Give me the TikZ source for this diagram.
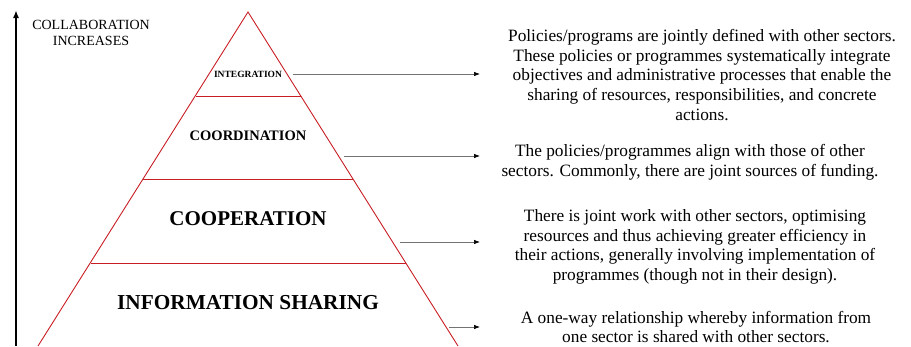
\documentclass[tikz,border=0pt]{standalone}
\usepackage{fontspec}
\setmainfont{Liberation Serif}
\usetikzlibrary{arrows.meta}
\definecolor{pyrred}{RGB}{200,30,35}
\tikzset{
  pyr/.style={draw=pyrred, line width=0.9pt},
  lvl/.style={font=\bfseries, inner sep=0pt, anchor=center},
  desc/.style={align=center, font=\fontsize{17.3}{19.6}\selectfont, inner sep=0pt, anchor=center},
  conn/.style={draw=black!55, line width=0.7pt, -{Latex[length=6pt,width=4.5pt,color=black]}},
  upar/.style={line width=1.8pt, -{Latex[length=8pt,width=6pt]}}
}
\begin{document}
\begin{tikzpicture}[x=1pt,y=-1pt]
\useasboundingbox (0,0) rectangle (911,346);
% pyramid
\coordinate (apex) at (248,12);
\coordinate (bl) at (38,346);
\coordinate (br) at (458,346);
\draw[pyr] (bl) -- (apex) -- (br);
\coordinate (l1) at (196,96);  \coordinate (r1) at (301,96);
\coordinate (l2) at (143,179); \coordinate (r2) at (353,179);
\coordinate (l3) at (91,263);  \coordinate (r3) at (406,263);
\draw[pyr] (l1) -- (r1);
\draw[pyr] (l2) -- (r2);
\draw[pyr] (l3) -- (r3);
% levels
\node[lvl, font=\bfseries\fontsize{9.5}{10}\selectfont] (integ) at (248,74) {INTEGRATION};
\node[lvl, font=\bfseries\fontsize{14.5}{15}\selectfont] (coord) at (248,136) {COORDINATION};
\node[lvl, font=\bfseries\fontsize{21}{22}\selectfont] (coop) at (248,219) {COOPERATION};
\node[lvl, font=\bfseries\fontsize{21.3}{22}\selectfont] (info) at (248,303) {INFORMATION SHARING};
% left axis
\coordinate (axb) at (16,346);
\coordinate (axt) at (16,10);
\draw[upar] (axb) -- (axt);
\node[align=center, font=\fontsize{14}{16}\selectfont, inner sep=0pt] (collab) at (91,33) {COLLABORATION\\INCREASES};
% descriptions
\node[desc] (d1) at (702,75) {Policies/programs are jointly defined with other sectors.\\These policies or programmes systematically integrate\\objectives and administrative processes that enable the\\sharing of resources, responsibilities, and concrete\\actions.};
\node[desc] (d2) at (690,162) {The policies/programmes align with those of other\\sectors. Commonly, there are joint sources of funding.};
\node[desc] (d3) at (695,247) {There is joint work with other sectors, optimising\\resources and thus achieving greater efficiency in\\their actions, generally involving implementation of\\programmes (though not in their design).};
\node[desc] (d4) at (696,327) {A one-way relationship whereby information from\\one sector is shared with other sectors.};
% connectors
\coordinate (s1) at (293,74);  \coordinate (e1) at (480,74);
\coordinate (s2) at (344,156); \coordinate (e2) at (480,156);
\coordinate (s3) at (400,242); \coordinate (e3) at (480,242);
\coordinate (s4) at (449,327); \coordinate (e4) at (480,327);
\draw[conn] (s1) -- (e1);
\draw[conn] (s2) -- (e2);
\draw[conn] (s3) -- (e3);
\draw[conn] (s4) -- (e4);
\end{tikzpicture}
\end{document}
